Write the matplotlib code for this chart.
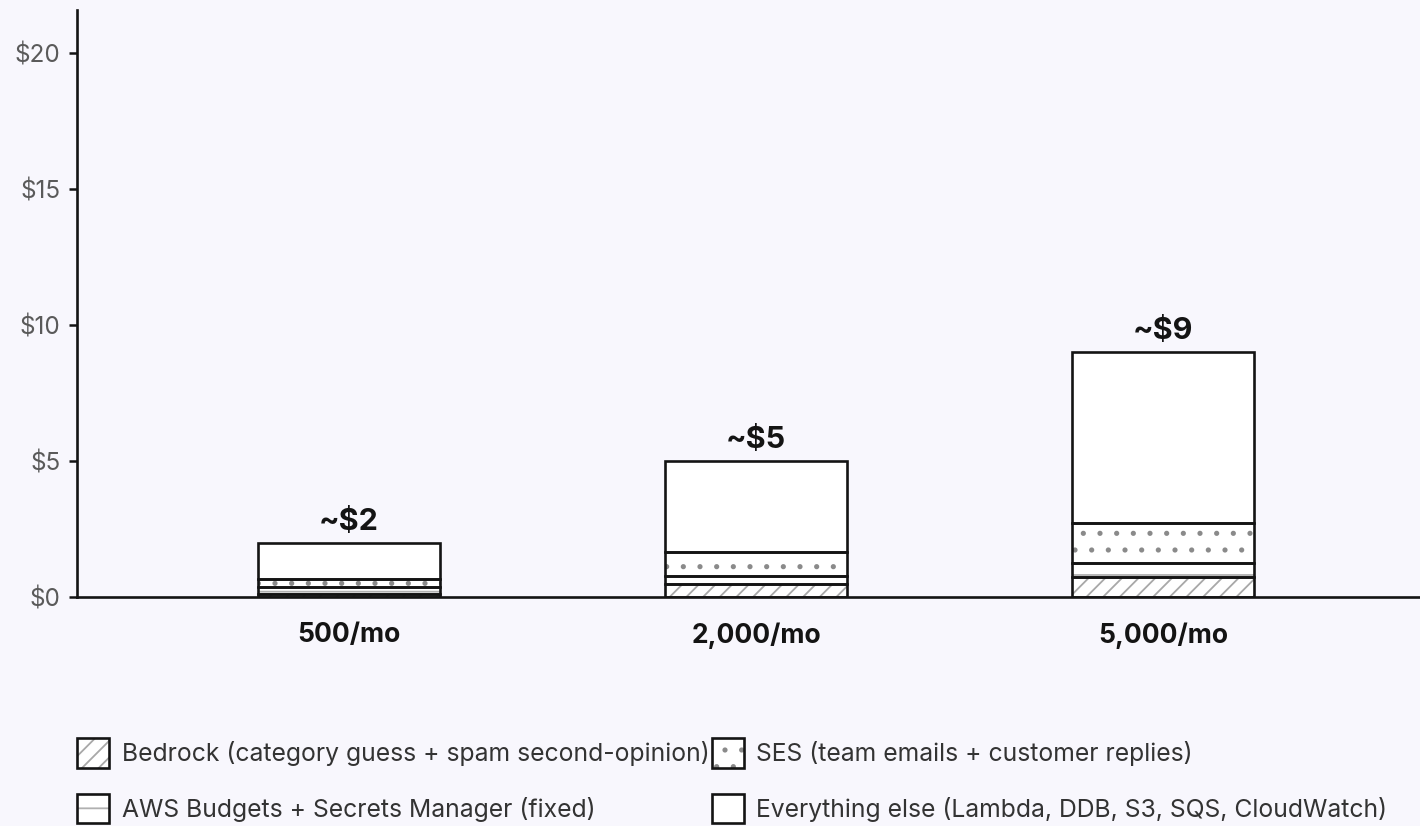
import numpy as np
import matplotlib.pyplot as plt
from matplotlib.patches import Patch
from matplotlib.legend_handler import HandlerTuple

# ---------- data ----------
volumes = ["500/mo", "2,000/mo", "5,000/mo"]
totals_lbl = ["~$2", "~$5", "~$9"]
series = [
    "Bedrock (category guess + spam second-opinion)",
    "AWS Budgets + Secrets Manager (fixed)",
    "SES (team emails + customer replies)",
    "Everything else (Lambda, DDB, S3, SQS, CloudWatch)",
]
bedrock = [0.10, 0.48, 0.75]
budgets = [0.27, 0.29, 0.51]
ses = [0.29, 0.90, 1.48]
other = [1.34, 3.33, 6.26]
hatches = ["//", "-", ".", ""]
hatch_cols = ["#a8a8a8", "#b0b0b0", "#8a8a8a", "#a0a0a0"]
# --------------------------

BG = "#f8f7fd"
INK = "#141414"

plt.rcParams["font.family"] = ["Inter", "DejaVu Sans"]
plt.rcParams["hatch.linewidth"] = 1.3

fig = plt.figure(figsize=(14.2, 8.26), dpi=100, facecolor=BG)
ax = fig.add_axes([0.0542, 0.2772, 0.9458, 0.7107], facecolor=BG)

x = np.arange(len(volumes))
w = 0.447
stack = [bedrock, budgets, ses, other]
bottom = np.zeros(len(volumes))
for vals, h, hc in zip(stack, hatches, hatch_cols):
    vals = np.array(vals)
    # hatch layer in grey, then black outline on top
    ax.bar(x, vals, w, bottom=bottom, color="white", edgecolor=hc,
           hatch=h, linewidth=0, zorder=2)
    ax.bar(x, vals, w, bottom=bottom, facecolor="none", edgecolor=INK,
           linewidth=1.9, zorder=3)
    bottom += vals

for xi, top, lbl in zip(x, bottom, totals_lbl):
    ax.annotate(lbl, (xi, top), xytext=(0, 5), textcoords="offset points",
                ha="center", va="bottom", fontsize=22, fontweight="bold",
                color=INK)

ax.set_xlim(-0.668, 2.631)
ax.set_ylim(0, 21.6)
ax.set_yticks([0, 5, 10, 15, 20])
ax.set_yticklabels(["$0", "$5", "$10", "$15", "$20"])
ax.set_xticks(x)
ax.set_xticklabels(volumes, fontsize=19, fontweight="bold", color=INK)
ax.tick_params(axis="x", length=0, pad=18)
ax.tick_params(axis="y", length=6, width=1.8, color=INK, labelsize=17.5,
               labelcolor="#5a5a5a", pad=6)
for s in ["top", "right"]:
    ax.spines[s].set_visible(False)
for s in ["left", "bottom"]:
    ax.spines[s].set_linewidth(1.9)
    ax.spines[s].set_color(INK)

handles = []
for h, hc in zip(hatches, hatch_cols):
    handles.append((Patch(facecolor="white", edgecolor=hc, hatch=h, linewidth=0),
                    Patch(facecolor="none", edgecolor=INK, linewidth=1.9)))
leg = fig.legend(handles, series,
                 handler_map={tuple: HandlerTuple(ndivide=1)},
                 loc="upper left", bbox_to_anchor=(77 / 1420, 0.106), ncol=2,
                 frameon=False, fontsize=17.8, handlelength=1.3, handleheight=1.45,
                 handletextpad=0.5, labelspacing=1.05, columnspacing=0.1,
                 borderpad=0, borderaxespad=0)
for t in leg.get_texts():
    t.set_color("#333333")

fig.savefig("out.png", dpi=100, facecolor=BG)
